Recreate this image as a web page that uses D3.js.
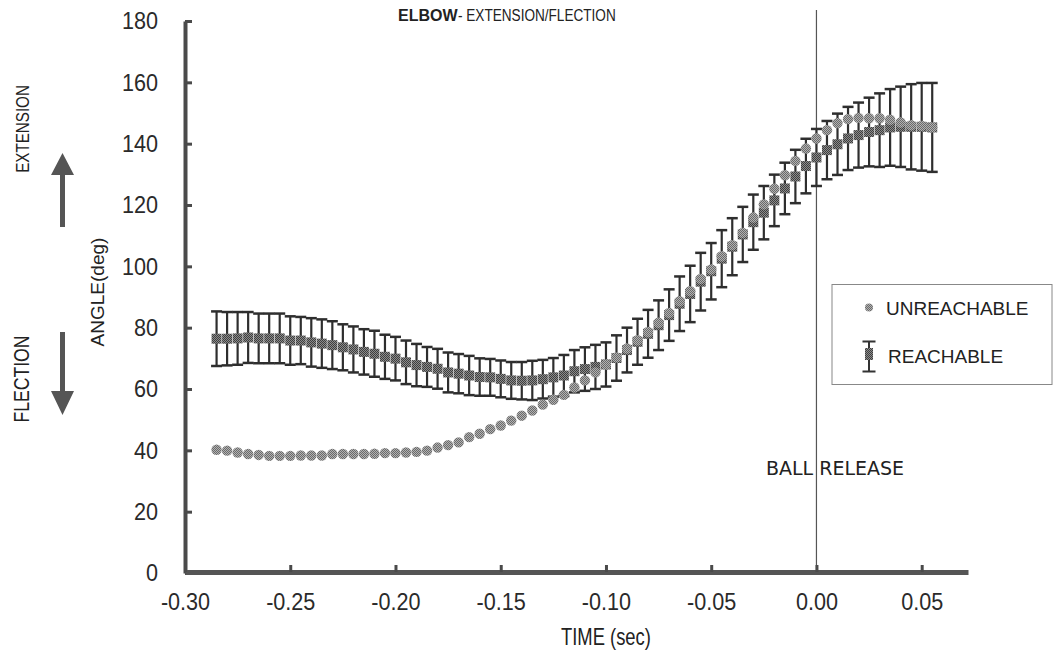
<!DOCTYPE html>
<html>
<head>
<meta charset="utf-8">
<script src="https://cdn.jsdelivr.net/npm/d3@7"></script>
<style>
  body { margin: 0; background: #fff; }
  svg { display: block; }
</style>
</head>
<body>
<div id="chart"></div>
<script>
// time (sec) of each sample
const times = [-0.285, -0.28, -0.275, -0.27, -0.265, -0.26, -0.255, -0.25, -0.245, -0.24,
    -0.235, -0.23, -0.225, -0.22, -0.215, -0.21, -0.205, -0.2, -0.195, -0.19,
    -0.185, -0.18, -0.175, -0.17, -0.165, -0.16, -0.155, -0.15, -0.145, -0.14,
    -0.135, -0.13, -0.125, -0.12, -0.115, -0.11, -0.105, -0.1, -0.095, -0.09,
    -0.085, -0.08, -0.075, -0.07, -0.065, -0.06, -0.055, -0.05, -0.045, -0.04,
    -0.035, -0.03, -0.025, -0.02, -0.015, -0.01, -0.005, 0, 0.005, 0.01,
    0.015, 0.02, 0.025, 0.03, 0.035, 0.04, 0.045, 0.05, 0.055];

const unreachable = [40.2, 39.9, 39.3, 38.8, 38.5, 38.2, 38.2, 38.2, 38.3, 38.3,
    38.3, 38.8, 38.8, 38.8, 38.8, 38.9, 39.1, 39.1, 39.3, 39.5,
    39.9, 40.9, 41.7, 42.6, 44.3, 45.4, 46.9, 48.1, 49.7, 51.3,
    53.0, 54.9, 56.5, 58.1, 60.5, 62.8, 65.4, 68.0, 70.3, 73.2,
    75.9, 78.6, 81.6, 84.8, 88.6, 91.9, 95.9, 99.0, 103.3, 106.9,
    110.9, 115.9, 120.2, 125.3, 129.7, 134.4, 138.4, 141.7, 144.4, 146.7,
    148.0, 148.4, 148.3, 148.3, 147.8, 146.9, 146.0, 145.8, 145.3];

const reachable = [76.4, 76.4, 76.5, 76.8, 76.5, 76.5, 76.5, 75.8, 75.8, 75.2,
    74.8, 74.3, 73.6, 72.9, 72.1, 71.5, 70.5, 69.9, 68.7, 67.8,
    67.2, 66.6, 65.4, 65.0, 64.4, 63.9, 63.8, 63.3, 62.8, 62.7,
    62.8, 63.2, 63.8, 64.4, 65.8, 66.5, 67.2, 68.0, 70.1, 72.7,
    75.4, 78.0, 80.8, 84.1, 87.8, 91.0, 95.0, 98.4, 102.5, 106.4,
    110.4, 114.4, 117.5, 121.5, 125.4, 129.3, 132.7, 135.5, 137.9, 139.8,
    141.7, 142.8, 143.8, 144.4, 145.3, 145.5, 145.5, 145.5, 145.3];

const reachableSD = [8.9, 8.7, 8.6, 8.3, 8.1, 8.1, 8.1, 7.9, 7.7, 7.9,
    7.9, 7.8, 7.5, 7.5, 7.4, 7.5, 7.2, 7.1, 7.1, 6.9,
    6.5, 6.5, 6.5, 6.4, 6.4, 6.1, 6.0, 6.0, 6.0, 6.1,
    6.4, 6.3, 6.3, 6.7, 6.9, 7.1, 7.2, 7.2, 7.4, 7.3,
    7.5, 7.8, 8.1, 8.4, 8.9, 9.2, 9.4, 9.2, 9.3, 9.3,
    9.0, 9.0, 8.7, 8.4, 8.4, 8.7, 8.9, 9.3, 9.5, 10.0,
    10.3, 10.6, 11.2, 12.0, 12.5, 13.1, 13.9, 14.3, 14.5];

const yTicks = [0, 20, 40, 60, 80, 100, 120, 140, 160, 180];
const xTicks = [-0.30, -0.25, -0.20, -0.15, -0.10, -0.05, 0.00, 0.05];
const xTickLabels = ["-0.30", "-0.25", "-0.20", "-0.15", "-0.10", "-0.05", "0.00", "0.05"];

const w = 1055;
const h = 658;
const sans = "'Liberation Sans', Arial, sans-serif";
const squeeze = 0.8;     // the scan uses a condensed Helvetica
const tickSqueeze = 0.9;

const x = d3.scaleLinear().domain([-0.30, 0.072]).range([185, 968]);
const y = d3.scaleLinear().domain([0, 180]).range([573, 21]);

const svg = d3.select("#chart")
    .append("svg")
    .attr("width", w)
    .attr("height", h);

// halftone look of the scanned markers
const defs = svg.append("defs");
function checker(id, base, dot) {
    const p = defs.append("pattern")
        .attr("id", id)
        .attr("width", 2).attr("height", 2)
        .attr("patternUnits", "userSpaceOnUse");
    p.append("rect").attr("width", 2).attr("height", 2).attr("fill", base);
    p.append("rect").attr("width", 1).attr("height", 1).attr("fill", dot);
    p.append("rect").attr("x", 1).attr("y", 1).attr("width", 1).attr("height", 1).attr("fill", dot);
}
checker("sq", "#8c8c8c", "#3e3e3e");
checker("ci", "#b2b2b2", "#6a6a6a");

// ball release line
svg.append("line")
    .attr("x1", x(0)).attr("x2", x(0))
    .attr("y1", 10).attr("y2", y(0))
    .attr("stroke", "#555")
    .attr("stroke-width", 1.2);

// axes
const yAxis = svg.append("g")
    .attr("transform", "translate(185,0)")
    .call(d3.axisLeft(y).tickValues(yTicks).tickSize(-7).tickSizeOuter(0).tickPadding(27));
yAxis.select(".domain").attr("stroke", "#4a4a4a").attr("stroke-width", 4);
yAxis.selectAll(".tick line").attr("stroke", "#4a4a4a").attr("stroke-width", 3);
yAxis.selectAll(".tick text")
    .attr("fill", "#2a2a2a")
    .attr("x", -27 / tickSqueeze)
    .attr("transform", `scale(${tickSqueeze},1)`)
    .style("font-family", sans)
    .style("font-size", "24px");

const xAxis = svg.append("g")
    .attr("transform", "translate(0,572)")
    .call(d3.axisBottom(x).tickValues(xTicks).tickSize(-7).tickSizeOuter(0).tickPadding(21)
        .tickFormat((d, i) => xTickLabels[i]));
xAxis.select(".domain").attr("stroke", "#555").attr("stroke-width", 5);
xAxis.selectAll(".tick line").attr("stroke", "#4a4a4a").attr("stroke-width", 3);
xAxis.selectAll(".tick text")
    .attr("fill", "#2a2a2a")
    .attr("transform", `scale(${tickSqueeze},1)`)
    .style("font-family", sans)
    .style("font-size", "24px");

// reachable: error bars + squares
const reach = times.map((t, i) => ({ t: t, m: reachable[i], s: reachableSD[i] }));
const bars = svg.append("g").attr("stroke", "#2e2e2e");
bars.selectAll("line.v").data(reach).enter().append("line")
    .attr("class", "v")
    .attr("x1", d => x(d.t)).attr("x2", d => x(d.t))
    .attr("y1", d => y(d.m + d.s)).attr("y2", d => y(d.m - d.s))
    .attr("stroke-width", 2.2);
bars.selectAll("line.top").data(reach).enter().append("line")
    .attr("class", "top")
    .attr("x1", d => x(d.t) - 5.5).attr("x2", d => x(d.t) + 5.5)
    .attr("y1", d => y(d.m + d.s)).attr("y2", d => y(d.m + d.s))
    .attr("stroke-width", 2.5);
bars.selectAll("line.bot").data(reach).enter().append("line")
    .attr("class", "bot")
    .attr("x1", d => x(d.t) - 5.5).attr("x2", d => x(d.t) + 5.5)
    .attr("y1", d => y(d.m - d.s)).attr("y2", d => y(d.m - d.s))
    .attr("stroke-width", 2.5);

svg.append("g").selectAll("rect").data(reach).enter().append("rect")
    .attr("x", d => x(d.t) - 5)
    .attr("y", d => y(d.m) - 5)
    .attr("width", 10).attr("height", 10)
    .attr("fill", "url(#sq)");

// unreachable: circles
svg.append("g").selectAll("circle").data(times).enter().append("circle")
    .attr("cx", d => x(d))
    .attr("cy", (d, i) => y(unreachable[i]))
    .attr("r", 5.2)
    .attr("fill", "url(#ci)");

// texts
svg.append("text")
    .attr("x", 398).attr("y", 21)
    .attr("fill", "#222")
    .attr("font-weight", "bold")
    .style("font-family", sans)
    .style("font-size", "16px")
    .text("ELBOW");
svg.append("text")
    .attr("transform", `translate(458,21) scale(${squeeze},1)`)
    .attr("fill", "#222")
    .style("font-family", sans)
    .style("font-size", "17px")
    .text("- EXTENSION/FLECTION");

svg.append("text")
    .attr("transform", `translate(${x(-0.10)},645) scale(${squeeze},1)`)
    .attr("text-anchor", "middle")
    .attr("fill", "#222")
    .style("font-family", sans)
    .style("font-size", "23px")
    .text("TIME (sec)");

svg.append("text")
    .attr("transform", "translate(104,292) rotate(-90)")
    .attr("text-anchor", "middle")
    .attr("fill", "#222")
    .style("font-family", sans)
    .style("font-size", "19px")
    .text("ANGLE(deg)");

svg.append("text")
    .attr("transform", `translate(29,129) rotate(-90) scale(${squeeze},1)`)
    .attr("text-anchor", "middle")
    .attr("fill", "#222")
    .style("font-family", sans)
    .style("font-size", "19px")
    .text("EXTENSION");

svg.append("text")
    .attr("transform", `translate(29,379) rotate(-90) scale(${squeeze},1)`)
    .attr("text-anchor", "middle")
    .attr("fill", "#222")
    .style("font-family", sans)
    .style("font-size", "22px")
    .text("FLECTION");

svg.append("text")
    .attr("x", 766).attr("y", 475)
    .attr("fill", "#222")
    .style("font-family", "'DejaVu Sans', sans-serif")
    .style("font-size", "19px")
    .text("BALL RELEASE");

// direction arrows
svg.append("path")
    .attr("d", "M60,227V175H51L62.5,153L74,175H65V227Z")
    .attr("fill", "#555");
svg.append("path")
    .attr("d", "M60,332V391H51L62.5,415L74,391H65V332Z")
    .attr("fill", "#555");

// legend
const lg = svg.append("g");
lg.append("rect")
    .attr("x", 832).attr("y", 284.5)
    .attr("width", 220).attr("height", 100)
    .attr("fill", "#fff")
    .attr("stroke", "#888")
    .attr("stroke-width", 1);
lg.append("circle")
    .attr("cx", 869).attr("cy", 307.5)
    .attr("r", 4)
    .attr("fill", "url(#ci)");
lg.append("path")
    .attr("d", "M862.5,341.5H875.5M869,341.5V371.5M862.5,371.5H875.5")
    .attr("stroke", "#333")
    .attr("stroke-width", 2);
lg.append("rect")
    .attr("x", 865).attr("y", 348)
    .attr("width", 8).attr("height", 12)
    .attr("fill", "url(#sq)");
lg.append("text")
    .attr("x", 886).attr("y", 315)
    .attr("fill", "#222")
    .style("font-family", sans)
    .style("font-size", "19px")
    .text("UNREACHABLE");
lg.append("text")
    .attr("x", 888).attr("y", 363)
    .attr("fill", "#222")
    .style("font-family", sans)
    .style("font-size", "19px")
    .text("REACHABLE");
</script>
</body>
</html>
